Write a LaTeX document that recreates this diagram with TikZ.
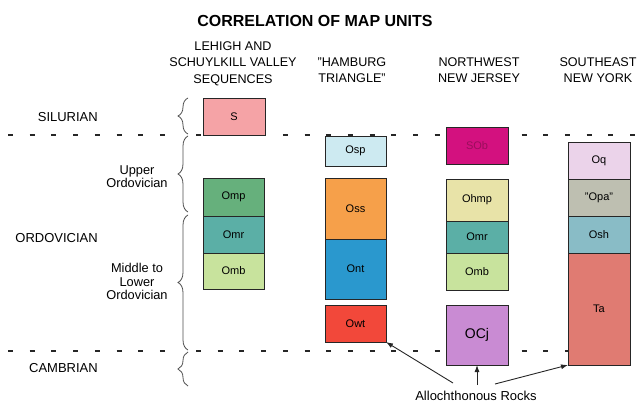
\documentclass[tikz,border=0pt]{standalone}
\usepackage{fontspec}
\setmainfont{Liberation Sans}
\usetikzlibrary{decorations.pathreplacing,arrows.meta}
\definecolor{cS}{HTML}{F5A3A6}
\definecolor{cOsp}{HTML}{CDEAF1}
\definecolor{cSOb}{HTML}{D3117F}
\definecolor{cSObT}{HTML}{9A0E5C}
\definecolor{cOq}{HTML}{EBD3EA}
\definecolor{cOmp}{HTML}{66B07C}
\definecolor{cOmr}{HTML}{5BAFA6}
\definecolor{cOmb}{HTML}{C8E39D}
\definecolor{cOss}{HTML}{F6A04A}
\definecolor{cOnt}{HTML}{2A98CE}
\definecolor{cOwt}{HTML}{F2483A}
\definecolor{cOhmp}{HTML}{E8E3A8}
\definecolor{cOCj}{HTML}{C98BD3}
\definecolor{cOpa}{HTML}{BEBFB1}
\definecolor{cOsh}{HTML}{89BCC6}
\definecolor{cTa}{HTML}{E07B72}
\begin{document}
\begin{tikzpicture}[x=1pt,y=-1pt,
  unit/.style={draw=black!85, line width=0.75pt, inner sep=0pt, outer sep=0pt,
    minimum width=61pt, font=\fontsize{11}{12}\selectfont},
  boundary/.style={line width=2.3pt, dash pattern=on 5pt off 16.7pt, black!85},
  brc/.style={decorate, decoration={brace, amplitude=10pt}, line width=0.8pt, black!70},
  hdr/.style={align=center, inner sep=0pt, font=\fontsize{12.6}{16.5}\selectfont},
  period/.style={anchor=east, inner sep=0pt, font=\fontsize{13}{15}\selectfont},
  sub/.style={align=center, inner sep=0pt, font=\fontsize{12.8}{13.5}\selectfont},
  arr/.style={-{Latex[length=7pt,width=5pt]}, line width=0.9pt, black!85}]
\useasboundingbox (0,0) rectangle (639,403);

% title and headers
\node[inner sep=0pt, font=\fontsize{16}{18}\bfseries] (title) at (315,20.5) {CORRELATION OF MAP UNITS};
\node[hdr] (h1) at (233,63.5) {LEHIGH AND\\SCHUYLKILL VALLEY\\SEQUENCES};
\node[hdr] (h2) at (352,70) {"HAMBURG\\TRIANGLE"};
\node[hdr] (h3) at (479,70) {NORTHWEST\\NEW JERSEY};
\node[hdr] (h4) at (598,70) {SOUTHEAST\\NEW YORK};

% period labels
\node[period] (sil) at (98,117) {SILURIAN};
\node[period] (ord) at (98,238) {ORDOVICIAN};
\node[period] (cam) at (98,368) {CAMBRIAN};
\node[sub] (upo) at (137,176.5) {Upper\\Ordovician};
\node[sub] (mlo) at (137,281.5) {Middle to\\Lower\\Ordovician};

% boundaries
\draw[boundary] (8,135) -- (172,135);
\draw[boundary] (196,135) -- (639,135);
\draw[boundary] (8,351) -- (172,351);
\draw[boundary] (196,351) -- (568,351);

% braces
\draw[brc] (188,134) -- (188,98);
\draw[brc] (188,212) -- (188,136);
\draw[brc] (188,350) -- (188,215);
\draw[brc] (188,386) -- (188,352);

% Lehigh and Schuylkill
\node[unit, fill=cS, minimum width=62pt, minimum height=37pt] (S) at (234,116.5) {S};
\node[unit, fill=cOmp, minimum height=38pt] (Omp1) at (233.5,197) {Omp};
\node[unit, fill=cOmr, minimum height=37pt] (Omr1) at (233.5,234.5) {Omr};
\node[unit, fill=cOmb, minimum height=36pt] (Omb1) at (233.5,271) {Omb};

% Hamburg triangle
\node[unit, fill=cOsp, minimum height=30pt] (Osp) at (355.5,151) {Osp};
\node[unit, fill=cOss, minimum height=61pt] (Oss) at (355.5,208.5) {Oss};
\node[unit, fill=cOnt, minimum height=60pt] (Ont) at (355.5,269) {Ont};
\node[unit, fill=cOwt, minimum height=37pt] (Owt) at (355.5,323.5) {Owt};

% Northwest New Jersey
\node[unit, fill=cSOb, text=cSObT, minimum width=62pt, minimum height=37pt] (SOb) at (477,145.5) {SOb};
\node[unit, fill=cOhmp, minimum width=62pt, minimum height=42pt] (Ohmp) at (477,200) {Ohmp};
\node[unit, fill=cOmr, minimum width=62pt, minimum height=32pt] (Omr2) at (477,237) {Omr};
\node[unit, fill=cOmb, minimum width=62pt, minimum height=37pt] (Omb2) at (477,271.5) {Omb};
\node[unit, fill=cOCj, minimum width=62pt, minimum height=60pt, font=\fontsize{14}{16}\selectfont] (OCj) at (477,335) {OCj};

% Southeast New York
\node[unit, fill=cOq, minimum width=62pt, minimum height=37pt] (Oq) at (599,160.5) {Oq};
\node[unit, fill=cOpa, minimum width=62pt, minimum height=37pt] (Opa) at (599,197.5) {"Opa"};
\node[unit, fill=cOsh, minimum width=62pt, minimum height=37pt] (Osh) at (599,234.5) {Osh};
\node[unit, fill=cTa, minimum width=62pt, minimum height=112pt] (Ta) at (599,309) {Ta};

% allochthonous
\node[inner sep=0pt, font=\fontsize{13}{15}\selectfont] (allo) at (476,396) {Allochthonous Rocks};
\coordinate (a1) at (453,383);
\coordinate (a2) at (477,385);
\coordinate (a3) at (495,384);
\draw[arr] (a1) -- (Owt.south east);
\draw[arr] (a2) -- (OCj.south);
\draw[arr] (a3) -- (Ta.south west);
\end{tikzpicture}
\end{document}
